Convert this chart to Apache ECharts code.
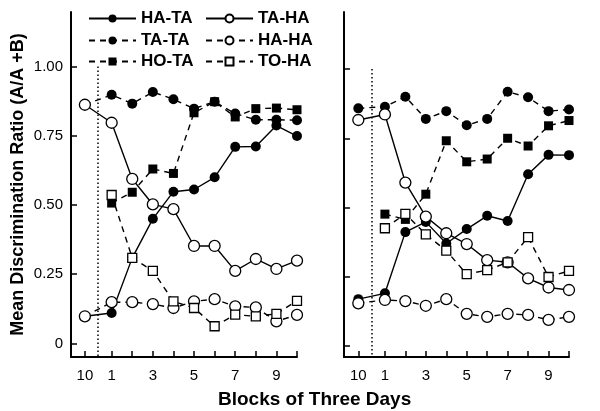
<!DOCTYPE html>
<html>
<head>
<meta charset="utf-8">
<script src="https://cdn.jsdelivr.net/npm/echarts@6/dist/echarts.min.js"></script>
<style>
  html, body { margin: 0; padding: 0; background: #fff; }
  #echarts { width: 600px; height: 411px; }
</style>
</head>
<body>
<div id="echarts"></div>
<script>
// block positions: baseline ("10" of the previous phase) then blocks 1..10
var blockPos = [-0.3, 1, 2, 3, 4, 5, 6, 7, 8, 9, 10];
var xLabelPos = [-0.3, 1, 3, 5, 7, 9];
var xLabelText = ['10', '1', '3', '5', '7', '9'];
var yTickPos = [0, 0.25, 0.5, 0.75, 1];
var yTickText = ['0', '0.25', '0.50', '0.75', '1.00'];
var dividerX = 0.34;

// left panel
var leftHATA = [0.098, 0.11, 0.309, 0.45, 0.548, 0.556, 0.60, 0.71, 0.711, 0.787, 0.749];
var leftTAHA = [0.862, 0.797, 0.594, 0.502, 0.485, 0.352, 0.352, 0.262, 0.305, 0.269, 0.299];
var leftTATA = [0.862, 0.898, 0.866, 0.908, 0.882, 0.848, 0.873, 0.830, 0.808, 0.808, 0.806];
var leftHAHA = [0.098, 0.149, 0.149, 0.142, 0.128, 0.152, 0.16, 0.134, 0.13, 0.08, 0.103];
var leftHOTA = [null, 0.507, 0.546, 0.63, 0.614, 0.833, 0.873, 0.818, 0.848, 0.85, 0.844];
var leftTOHA = [null, 0.536, 0.309, 0.262, 0.152, 0.128, 0.062, 0.104, 0.098, 0.107, 0.154];

// right panel
var rightHATA = [0.169, 0.190, 0.411, 0.448, 0.370, 0.422, 0.470, 0.451, 0.620, 0.690, 0.689];
var rightTAHA = [0.816, 0.836, 0.590, 0.467, 0.407, 0.368, 0.310, 0.302, 0.244, 0.211, 0.202];
var rightTATA = [0.858, 0.864, 0.900, 0.820, 0.848, 0.797, 0.820, 0.918, 0.898, 0.848, 0.854];
var rightHAHA = [0.154, 0.166, 0.162, 0.145, 0.169, 0.116, 0.105, 0.116, 0.112, 0.094, 0.105];
var rightHOTA = [null, 0.476, 0.457, 0.548, 0.741, 0.665, 0.675, 0.750, 0.722, 0.795, 0.814];
var rightTOHA = [null, 0.425, 0.477, 0.403, 0.344, 0.259, 0.274, 0.302, 0.393, 0.249, 0.271];

var FONT = 'Liberation Sans';

var styles = {
    'HA-TA': { symbol: 'circle', size: 10, open: false, dashed: false },
    'TA-TA': { symbol: 'circle', size: 10, open: false, dashed: true },
    'HO-TA': { symbol: 'rect', size: 9, open: false, dashed: true },
    'TA-HA': { symbol: 'circle', size: 11, open: true, dashed: false },
    'HA-HA': { symbol: 'circle', size: 11, open: true, dashed: true },
    'TO-HA': { symbol: 'rect', size: 9, open: true, dashed: true }
};

function makeSeries(name, idx, values) {
    var st = styles[name];
    var data = [];
    for (var i = 0; i < blockPos.length; i++) {
        data.push([blockPos[i], values[i]]);
    }
    return {
        name: name,
        type: 'line',
        xAxisIndex: idx,
        yAxisIndex: idx,
        data: data,
        symbol: st.symbol,
        symbolSize: st.size,
        showAllSymbol: true,
        connectNulls: false,
        animation: false,
        z: st.open ? 3 : 2,
        lineStyle: {
            color: '#000',
            width: 1.4,
            type: st.dashed ? [6, 5] : 'solid'
        },
        itemStyle: {
            color: st.open ? '#fff' : '#000',
            borderColor: '#000',
            borderWidth: st.open ? 1.3 : 0
        }
    };
}

function xAxisFor(idx, min) {
    return {
        type: 'value',
        gridIndex: idx,
        min: min,
        max: 10,
        axisLine: { onZero: false, lineStyle: { color: '#000', width: 2 } },
        axisTick: { inside: true, length: 6, customValues: blockPos, lineStyle: { color: '#000', width: 1.5 } },
        axisLabel: {
            customValues: xLabelPos,
            margin: 11,
            color: '#000',
            fontFamily: FONT,
            fontSize: 15,
            formatter: function (v) {
                for (var i = 0; i < xLabelPos.length; i++) {
                    if (Math.abs(xLabelPos[i] - v) < 1e-6) return xLabelText[i];
                }
                return '';
            }
        },
        splitLine: { show: false }
    };
}

function yAxisFor(idx, min, max, showLabels) {
    var ax = {
        type: 'value',
        gridIndex: idx,
        min: min,
        max: max,
        axisLine: { show: true, onZero: false, lineStyle: { color: '#000', width: 2 } },
        axisTick: { show: true, inside: true, length: 6, customValues: yTickPos, lineStyle: { color: '#000', width: 1.5 } },
        axisLabel: {
            show: showLabels,
            customValues: yTickPos,
            margin: 8,
            color: '#000',
            fontFamily: FONT,
            fontSize: 15,
            formatter: function (v) {
                for (var i = 0; i < yTickPos.length; i++) {
                    if (Math.abs(yTickPos[i] - v) < 1e-6) return yTickText[i];
                }
                return '';
            }
        },
        splitLine: { show: false }
    };
    if (showLabels) {
        ax.name = 'Mean Discrimination Ratio (A/A +B)';
        ax.nameLocation = 'middle';
        ax.nameGap = 44;
        ax.nameTextStyle = { color: '#000', fontFamily: FONT, fontWeight: 'bold', fontSize: 18 };
    }
    return ax;
}

function legendAt(name, left, top) {
    return {
        data: [name],
        left: left,
        top: top,
        padding: 0,
        itemWidth: 47,
        itemHeight: 10,
        selectedMode: false,
        textStyle: { color: '#000', fontFamily: FONT, fontWeight: 'bold', fontSize: 17 }
    };
}

function dividerLine(idx, yMin) {
    return {
        type: 'line',
        xAxisIndex: idx,
        yAxisIndex: idx,
        data: [],
        silent: true,
        markLine: {
            silent: true,
            symbol: 'none',
            label: { show: false },
            animation: false,
            lineStyle: { color: '#000', type: [1.5, 2.5], width: 1.5 },
            data: [[{ coord: [dividerX, 1.0] }, { coord: [dividerX, yMin] }]]
        }
    };
}

var leftYMin = -0.049, leftYMax = 1.197;
var rightYMin = -0.040, rightYMax = 1.206;

let myChart = echarts.init(document.getElementById('echarts'), null, { renderer: 'canvas' });
var option = {
    backgroundColor: '#fff',
    animation: false,
    grid: [
        { left: 71, top: 12, width: 226, height: 345 },
        { left: 344, top: 12, width: 225, height: 345 }
    ],
    legend: [
        legendAt('HA-TA', 88, 10),
        legendAt('TA-HA', 205, 10),
        legendAt('TA-TA', 88, 32),
        legendAt('HA-HA', 205, 32),
        legendAt('HO-TA', 88, 53),
        legendAt('TO-HA', 205, 53)
    ],
    xAxis: [xAxisFor(0, -0.974), xAxisFor(1, -1.0)],
    yAxis: [yAxisFor(0, leftYMin, leftYMax, true), yAxisFor(1, rightYMin, rightYMax, false)],
    graphic: [{
        type: 'text',
        left: 218,
        top: 390,
        style: { text: 'Blocks of Three Days', fill: '#000', font: 'bold 19px "Liberation Sans"' }
    }],
    series: [
        dividerLine(0, leftYMin),
        dividerLine(1, rightYMin),
        makeSeries('HA-TA', 0, leftHATA),
        makeSeries('TA-TA', 0, leftTATA),
        makeSeries('HO-TA', 0, leftHOTA),
        makeSeries('TA-HA', 0, leftTAHA),
        makeSeries('HA-HA', 0, leftHAHA),
        makeSeries('TO-HA', 0, leftTOHA),
        makeSeries('HA-TA', 1, rightHATA),
        makeSeries('TA-TA', 1, rightTATA),
        makeSeries('HO-TA', 1, rightHOTA),
        makeSeries('TA-HA', 1, rightTAHA),
        makeSeries('HA-HA', 1, rightHAHA),
        makeSeries('TO-HA', 1, rightTOHA)
    ]
};
myChart.setOption(option);
</script>
</body>
</html>
